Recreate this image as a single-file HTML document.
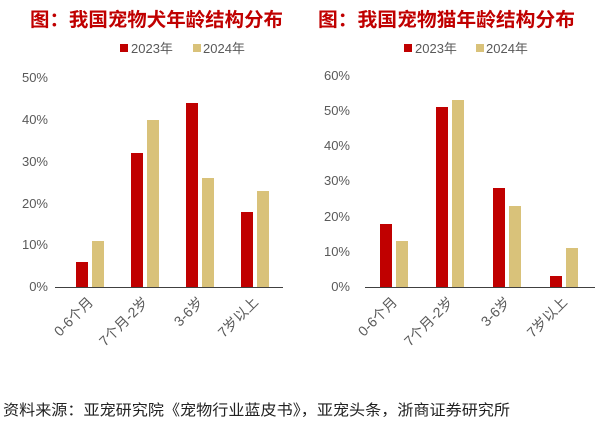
<!DOCTYPE html><html><head><meta charset="utf-8"><style>body{margin:0;background:#fff}svg{display:block}</style></head><body>
<svg width="600" height="423" xmlns="http://www.w3.org/2000/svg" font-family="Liberation Sans, Noto Sans CJK SC, sans-serif">
<g font-weight="bold" font-size="19" fill="#c00000">
<text x="30" y="26" textLength="253" lengthAdjust="spacingAndGlyphs">图：我国宠物犬年龄结构分布</text>
<text x="318" y="26" textLength="257" lengthAdjust="spacingAndGlyphs">图：我国宠物猫年龄结构分布</text></g>
<g font-size="13" fill="#595959">
<rect x="120" y="44" width="8" height="8" fill="#c00000"/><text x="131" y="53">2023年</text>
<rect x="193" y="44" width="8" height="8" fill="#d9c27a"/><text x="203" y="53">2024年</text>
<rect x="404" y="44" width="8" height="8" fill="#c00000"/><text x="415" y="53">2023年</text>
<rect x="476" y="44" width="8" height="8" fill="#d9c27a"/><text x="486" y="53">2024年</text>
<g text-anchor="end">
<text x="48" y="291">0%</text><text x="48" y="249">10%</text><text x="48" y="208">20%</text><text x="48" y="166">30%</text><text x="48" y="124">40%</text><text x="48" y="82">50%</text>
<text x="350" y="291">0%</text><text x="350" y="256">10%</text><text x="350" y="221">20%</text><text x="350" y="185">30%</text><text x="350" y="150">40%</text><text x="350" y="115">50%</text><text x="350" y="80">60%</text>
</g>
<g text-anchor="end" font-size="14">
<text transform="translate(94,303) rotate(-45)">0-6个月</text>
<text transform="translate(149,303) rotate(-45)">7个月-2岁</text>
<text transform="translate(204,303) rotate(-45)">3-6岁</text>
<text transform="translate(259,303) rotate(-45)">7岁以上</text>
<text transform="translate(398,303) rotate(-45)">0-6个月</text>
<text transform="translate(454,303) rotate(-45)">7个月-2岁</text>
<text transform="translate(511,303) rotate(-45)">3-6岁</text>
<text transform="translate(568,303) rotate(-45)">7岁以上</text>
</g></g>
<g fill="#c00000">
<rect x="76" y="262" width="12" height="25"/><rect x="131" y="153" width="12" height="134"/><rect x="186" y="103" width="12" height="184"/><rect x="241" y="212" width="12" height="75"/>
<rect x="380" y="224" width="12" height="63"/><rect x="436" y="107" width="12" height="180"/><rect x="493" y="188" width="12" height="99"/><rect x="550" y="276" width="12" height="11"/>
</g>
<g fill="#d9c27a">
<rect x="92" y="241" width="12" height="46"/><rect x="147" y="120" width="12" height="167"/><rect x="202" y="178" width="12" height="109"/><rect x="257" y="191" width="12" height="96"/>
<rect x="396" y="241" width="12" height="46"/><rect x="452" y="100" width="12" height="187"/><rect x="509" y="206" width="12" height="81"/><rect x="566" y="248" width="12" height="39"/>
</g>
<line x1="55" y1="287.5" x2="283" y2="287.5" stroke="#404040" stroke-width="1"/>
<line x1="365" y1="287.5" x2="595" y2="287.5" stroke="#404040" stroke-width="1"/>
<text x="3" y="415" font-size="15" fill="#222" textLength="507" lengthAdjust="spacingAndGlyphs">资料来源：亚宠研究院《宠物行业蓝皮书》，亚宠头条，浙商证券研究所</text>
</svg></body></html>
